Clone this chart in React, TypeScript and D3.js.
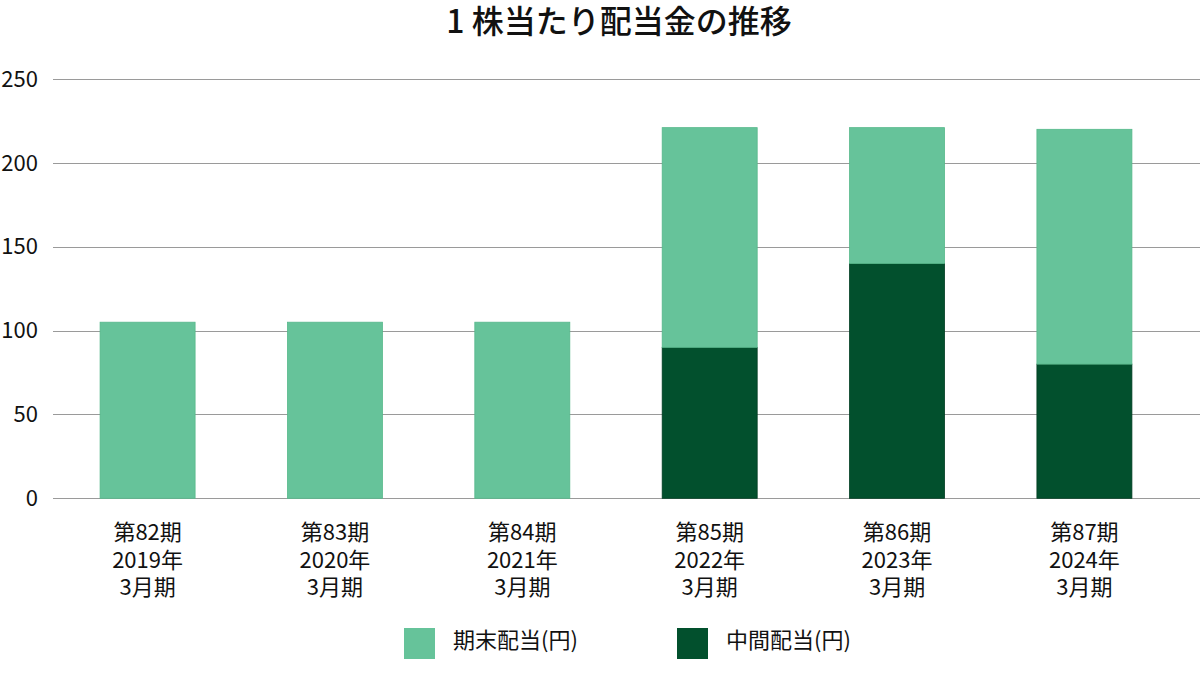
import { useEffect, useRef } from "react";
import * as d3 from "d3";

const periods = ["第82期", "第83期", "第84期", "第85期", "第86期", "第87期"];
const years = ["2019年", "2020年", "2021年", "2022年", "2023年", "2024年"];
const interim = [0, 0, 0, 90, 140, 80];
const yearEnd = [105, 105, 105, 131, 81, 140];
const yTicks = [0, 50, 100, 150, 200, 250];
const seriesNames = ["期末配当(円)", "中間配当(円)"];

const W = 1200;
const H = 674;
const FONT = "'Noto Sans CJK JP', 'Noto Sans', sans-serif";
const LIGHT = "#66c39a";
const DARK = "#02502d";

export default function App() {
  const ref = useRef<SVGSVGElement | null>(null);

  useEffect(() => {
    const svg = d3.select(ref.current!);
    svg.selectAll("*").remove();

    const x = d3.scaleBand<string>().domain(periods).range([54, 1178]).paddingInner(0.493).paddingOuter(0.246);
    const y = d3.scaleLinear().domain([0, 250]).range([498.3, 79]);

    svg
      .append("text")
      .attr("x", 619)
      .attr("y", 33)
      .attr("text-anchor", "middle")
      .style("font-family", FONT)
      .style("font-size", "32px")
      .style("font-weight", 500)
      .style("fill", "#111")
      .text("1 株当たり配当金の推移");

    // grid + y labels
    const grid = svg.append("g");
    grid
      .selectAll("line")
      .data(yTicks)
      .join("line")
      .attr("x1", 53)
      .attr("x2", W)
      .attr("y1", (d) => Math.round(y(d)) + 0.5)
      .attr("y2", (d) => Math.round(y(d)) + 0.5)
      .attr("stroke", "#9a9a9a")
      .attr("stroke-width", 1);
    grid
      .selectAll("text")
      .data(yTicks)
      .join("text")
      .attr("x", 38)
      .attr("y", (d) => y(d))
      .attr("dy", "0.35em")
      .attr("text-anchor", "end")
      .style("font-family", FONT)
      .style("font-size", "22px")
      .style("fill", "#111")
      .text((d) => d);

    const rows = periods.map((p, i) => ({ p, interim: interim[i], yearEnd: yearEnd[i] }));
    const stack = d3.stack<any>().keys(["interim", "yearEnd"])(rows);
    const colors = [DARK, LIGHT];
    const strokes = ["#013d22", "#56b88b"];

    stack.forEach((layer, li) => {
      svg
        .append("g")
        .selectAll("rect")
        .data(layer.filter((d) => d[1] > d[0]))
        .join("rect")
        .attr("x", (d) => x(d.data.p)!)
        .attr("width", x.bandwidth())
        .attr("y", (d) => y(d[1]))
        .attr("height", (d) => y(d[0]) - y(d[1]))
        .attr("fill", colors[li])
        .attr("stroke", strokes[li])
        .attr("stroke-width", 0.8);
    });

    // category labels
    const cat = svg.append("g");
    periods.forEach((p, i) => {
      const cx = x(p)! + x.bandwidth() / 2;
      [p, years[i], "3月期"].forEach((t, j) => {
        cat
          .append("text")
          .attr("x", cx)
          .attr("y", 540 + j * 27.5)
          .attr("text-anchor", "middle")
          .style("font-family", FONT)
          .style("font-size", "22px")
          .style("fill", "#111")
          .text(t);
      });
    });

    // legend
    const legendX = [404, 677];
    const legendColors = [LIGHT, DARK];
    seriesNames.forEach((s, i) => {
      const g = svg.append("g");
      g.append("rect")
        .attr("x", legendX[i])
        .attr("y", 628)
        .attr("width", 31)
        .attr("height", 31)
        .attr("fill", legendColors[i]);
      g.append("text")
        .attr("x", legendX[i] + 49)
        .attr("y", 640)
        .attr("dy", "0.35em")
        .style("font-family", FONT)
        .style("font-size", "22px")
        .style("fill", "#111")
        .text(s);
    });
  }, []);

  return (
    <div style={{ position: "absolute", left: 0, top: 0 }}>
      <svg ref={ref} width={W} height={H} style={{ display: "block", background: "#fff" }} />
    </div>
  );
}
